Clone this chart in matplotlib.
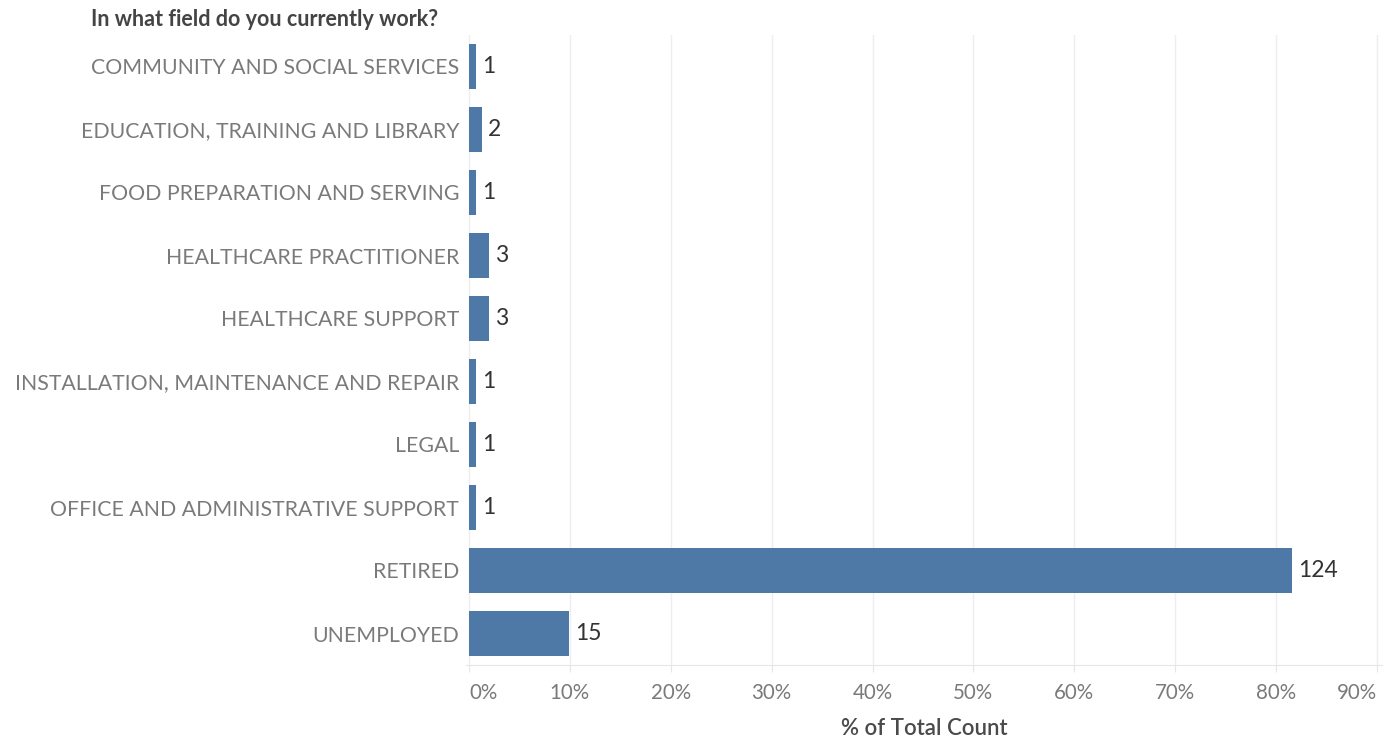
import matplotlib.pyplot as plt
import numpy as np

plt.rcParams['font.family'] = ['Lato', 'DejaVu Sans']

categories = [
    "COMMUNITY AND SOCIAL SERVICES",
    "EDUCATION, TRAINING AND LIBRARY",
    "FOOD PREPARATION AND SERVING",
    "HEALTHCARE PRACTITIONER",
    "HEALTHCARE SUPPORT",
    "INSTALLATION, MAINTENANCE AND REPAIR",
    "LEGAL",
    "OFFICE AND ADMINISTRATIVE SUPPORT",
    "RETIRED",
    "UNEMPLOYED",
]
counts = [1, 2, 1, 3, 3, 1, 1, 1, 124, 15]
x_ticks = [0, 10, 20, 30, 40, 50, 60, 70, 80, 90]

total = sum(counts)
pct = [c / total * 100 for c in counts]

BAR_COLOR = "#4e79a7"

fig = plt.figure(figsize=(13.98, 7.42), dpi=100)
ax = fig.add_axes([466 / 1398, 1 - 665 / 742, (1382 - 466) / 1398, (665 - 35) / 742])

y = np.arange(len(categories))
ax.barh(y, pct, height=0.73, color=BAR_COLOR, zorder=3)
for yi, p, c in zip(y, pct, counts):
    ax.text(p + 0.6, yi, str(c), va="center", ha="left", fontsize=16.5, color="#333333")

ax.set_ylim(len(categories) - 0.5, -0.5)
ax.set_xlim(-0.3, 90.5)
ax.set_yticks(y)
ax.set_yticklabels(categories, fontsize=15.3, color="#7a7a7a")
ax.set_xticks(x_ticks)
ax.set_xticklabels([f"{t}%" for t in x_ticks], fontsize=14.8, color="#7a7a7a")
# keep end labels inside the plot like the original
xt = ax.get_xticklabels()
xt[0].set_horizontalalignment("left")
xt[-1].set_horizontalalignment("right")
ax.tick_params(axis="y", length=0, pad=5)
ax.tick_params(axis="x", length=5, color="#e6e6e6", pad=8)

ax.grid(axis="x", color="#eeeeee", linewidth=1, zorder=0)
for s in ["top", "right", "left"]:
    ax.spines[s].set_visible(False)
ax.spines["bottom"].set_color("#e6e6e6")

ax.set_xlabel("% of Total Count", fontsize=16, fontweight="semibold", color="#4a4a4a", labelpad=11)
fig.text(91 / 1398, 1 - 19 / 742, "In what field do you currently work?", fontsize=15.5,
         fontweight="bold", color="#444444", ha="left", va="center")

fig.savefig("out.png", dpi=100)
